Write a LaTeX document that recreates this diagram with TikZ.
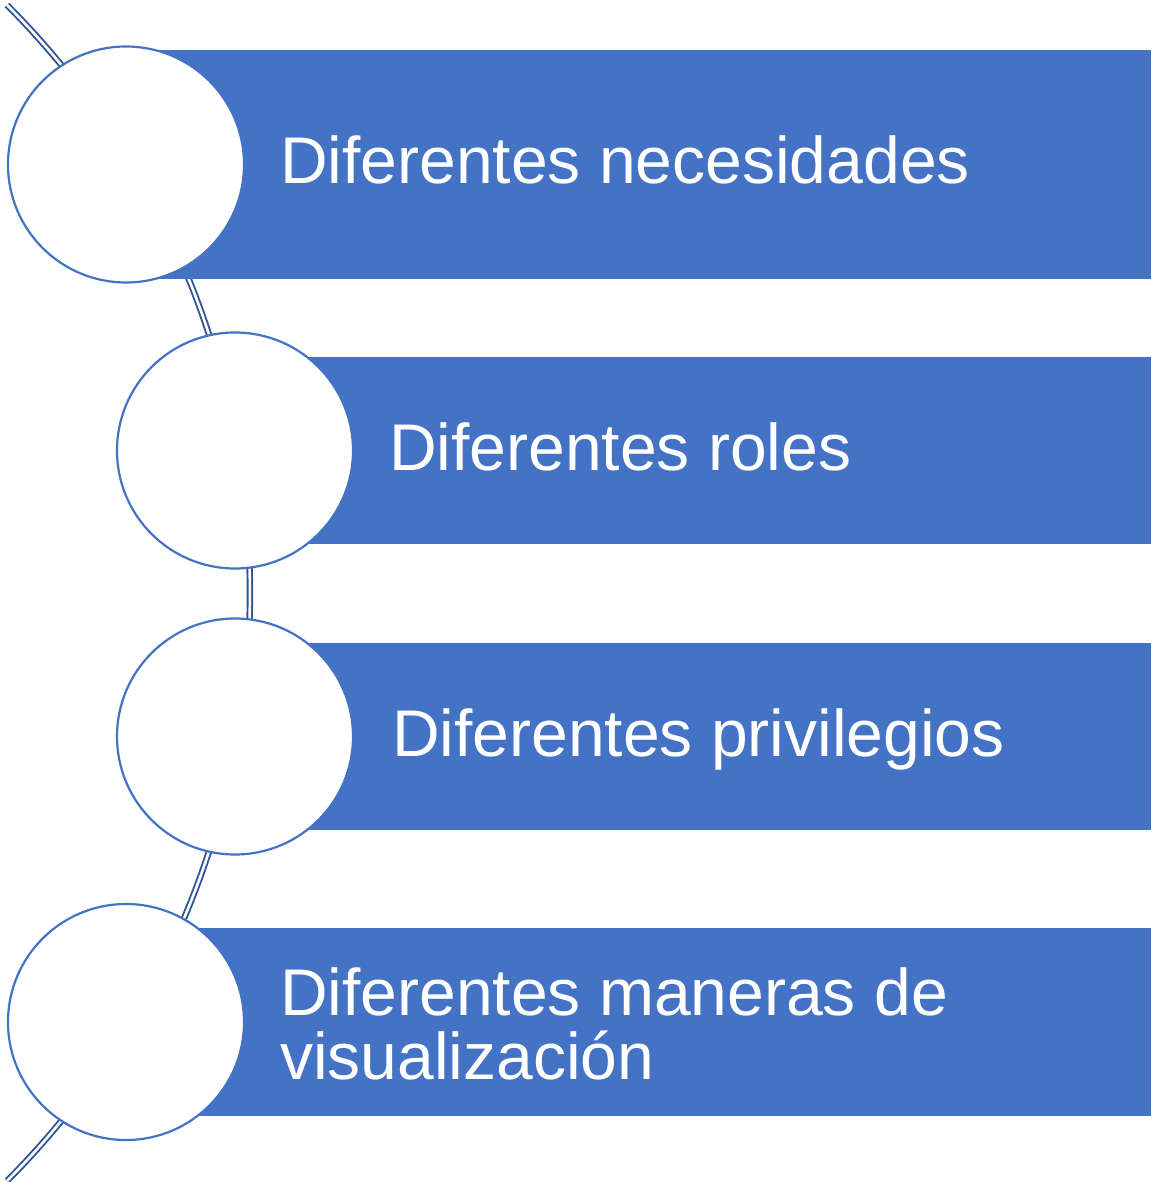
\documentclass[tikz,border=0pt]{standalone}
\usepackage{fontspec}
\setmainfont{Liberation Sans}
\definecolor{accent}{HTML}{4472C4}
\definecolor{arcblue}{HTML}{2F5597}
\begin{document}
\begin{tikzpicture}[x=1pt,y=-1pt,
  bar/.style={fill=accent,draw=none},
  disc/.style={circle,draw=accent,line width=2.2pt,fill=white,minimum size=236pt,inner sep=0pt},
  label/.style={text=white,inner sep=0pt,anchor=base west,font=\fontsize{66}{64}\selectfont,align=left},
  spine/.style={draw=arcblue,line width=1.9pt,double=white,double distance=2.6pt,line cap=butt}
]
\useasboundingbox (0,0) rectangle (1153,1182);
% arc behind everything
\coordinate (arcstart) at (7,5);
\draw[spine] (arcstart) arc[start angle=44.9,end angle=-44.9,radius=833pt];
% bars
\fill[bar] (126,50) rectangle (1151,279);
\fill[bar] (235,357) rectangle (1151,544);
\fill[bar] (235,643) rectangle (1151,830);
\fill[bar] (126,928) rectangle (1151,1116);
% circles
\node[disc] (c1) at (126,164.5) {};
\node[disc] (c2) at (235,450.5) {};
\node[disc] (c3) at (235,736.5) {};
\node[disc] (c4) at (126,1022) {};
% labels
\node[label] (t1) at (280,184) {Diferentes necesidades};
\node[label] (t2) at (389,470) {Diferentes roles};
\node[label] (t3) at (392,756) {Diferentes privilegios};
\node[label] (t4) at (280,1079) {Diferentes maneras de\\visualización};
\end{tikzpicture}
\end{document}
